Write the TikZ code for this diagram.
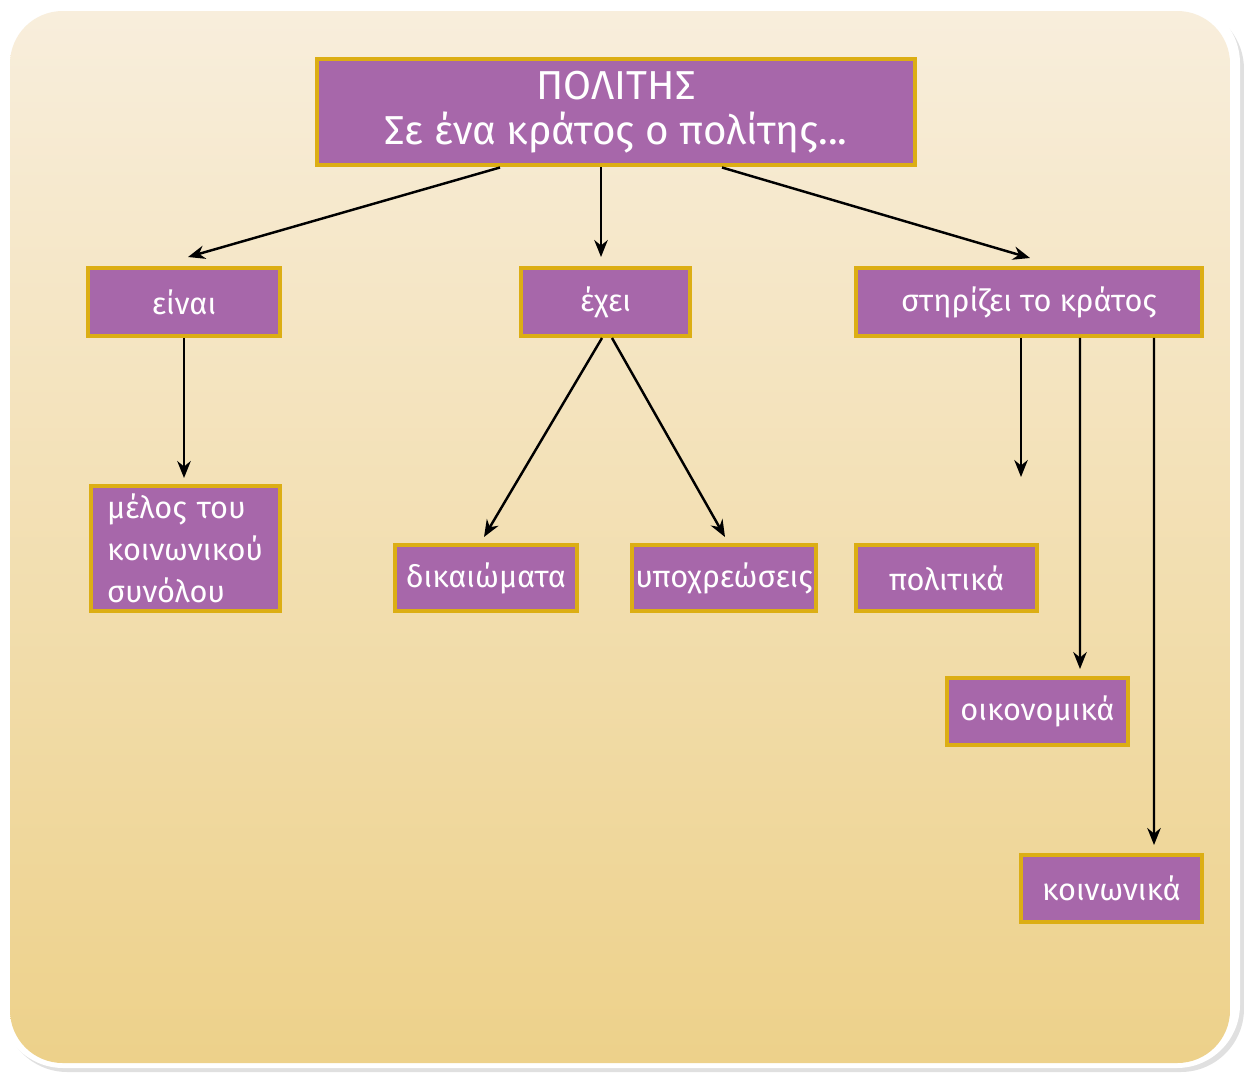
\documentclass[tikz,border=0pt]{standalone}
\usepackage{fontspec}
\setmainfont{Fira Sans}
\usetikzlibrary{calc,arrows.meta}
\definecolor{boxfill}{HTML}{A767AA}
\definecolor{boxline}{HTML}{DCAE14}
\definecolor{paneltop}{HTML}{F8EEDC}
\definecolor{panelbot}{HTML}{EDD18A}
\tikzset{
  box/.style={draw=boxline, fill=boxfill, line width=0.08cm, text=white, font=\fontsize{17.5}{24}\selectfont, inner xsep=0.18cm},
  arr/.style={draw, line width=1.4pt, ->, >={Stealth[length=0.34cm,width=0.27cm]}}
}
\begin{document}
\begin{tikzpicture}[x=0.02cm, y=-0.02cm]
\useasboundingbox (0,0) rectangle (1244,1072);
% frame and panel
\fill[black!12, rounded corners=36] (4,6) rectangle (1244,1072);
\fill[white, rounded corners=36] (0,0) rectangle (1240,1068);
\shade[top color=paneltop, bottom color=panelbot, rounded corners=30] (10,11) rectangle (1230,1063);

\node[box, minimum width=11.96cm, minimum height=2.14cm, align=center, font=\fontsize{23}{25.5}\selectfont] (top) at (616,112) {ΠΟΛΙΤΗΣ\\Σε ένα κράτος ο πολίτης...};
\node[box, minimum width=3.84cm, minimum height=1.36cm] (einai) at (184,302) {είναι};
\node[box, minimum width=3.38cm, minimum height=1.36cm] (exei) at (605.5,302) {έχει};
\node[box, minimum width=6.92cm, minimum height=1.36cm] (stirizei) at (1029,302) {στηρίζει το κράτος};
\node[box, minimum height=2.5cm, inner xsep=0.32cm, text width=3.14cm, align=left] (melos) at (185.5,548.5) {μέλος του\\κοινωνικού\\συνόλου};
\node[box, minimum width=3.64cm, minimum height=1.32cm] (dikaiomata) at (486,578) {δικαιώματα};
\node[box, minimum width=3.64cm, minimum height=1.32cm, inner xsep=0.06cm] (ypoxreoseis) at (724,578) {υποχρεώσεις};
\node[box, minimum width=3.62cm, minimum height=1.32cm] (politika) at (946.5,578) {πολιτικά};
\node[box, minimum width=3.62cm, minimum height=1.34cm] (oikonomika) at (1037.5,711.5) {οικονομικά};
\node[box, minimum width=3.62cm, minimum height=1.34cm] (koinonika) at (1111.5,888.5) {κοινωνικά};
\coordinate (free) at (1021,477);

\path[arr] ($(top.south)+(-116,0)$) -- ($(einai.north)+(4,-9)$);
\path[arr] ($(top.south)+(-15,0)$) -- ($(exei.north)+(-4.5,-9)$);
\path[arr] ($(top.south)+(106,0)$) -- ($(stirizei.north)+(1,-8)$);
\path[arr] (einai.south) -- ($(melos.north)+(-1.5,-6)$);
\path[arr] ($(exei.south)+(-3.5,0)$) -- ($(dikaiomata.north)+(-2,-6)$);
\path[arr] ($(exei.south)+(6.5,0)$) -- ($(ypoxreoseis.north)+(1,-6)$);
\path[arr] ($(stirizei.south)+(-8,0)$) -- (free);
\path[arr] ($(stirizei.south)+(51,0)$) -- ($(oikonomika.north)+(42.5,-7)$);
\path[arr] ($(stirizei.south)+(125,0)$) -- ($(koinonika.north)+(42.5,-8)$);
\end{tikzpicture}
\end{document}
